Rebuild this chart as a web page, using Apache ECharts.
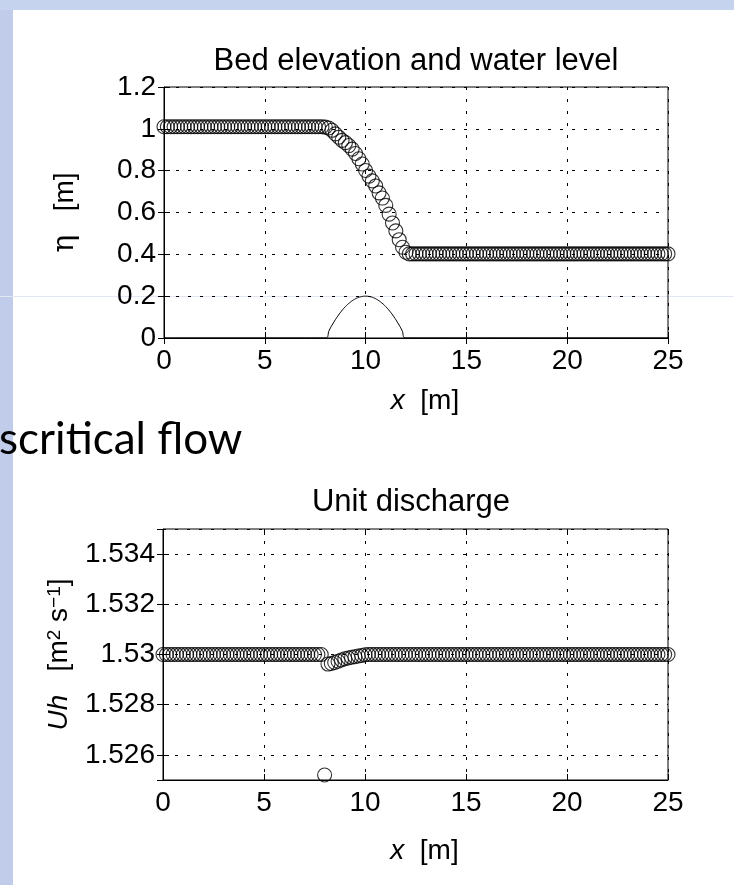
<!DOCTYPE html>
<html><head><meta charset="utf-8">
<script src="https://cdn.jsdelivr.net/npm/echarts@6/dist/echarts.min.js"></script>
<style>html,body{margin:0;padding:0;background:#fff}#c{width:734px;height:885px}</style>
</head><body><div id="c"></div>
<script>
// ---- data ----
const xNodes = [
0,0.167,0.333,0.5,0.667,0.833,
1,1.167,1.333,1.5,1.667,1.833,
2,2.167,2.333,2.5,2.667,2.833,
3,3.167,3.333,3.5,3.667,3.833,
4,4.167,4.333,4.5,4.667,4.833,
5,5.167,5.333,5.5,5.667,5.833,
6,6.167,6.333,6.5,6.667,6.833,
7,7.167,7.333,7.5,7.667,7.833,
8,8.167,8.333,8.5,8.667,8.833,
9,9.167,9.333,9.5,9.667,9.833,
10,10.167,10.333,10.5,10.667,10.833,
11,11.167,11.333,11.5,11.667,11.833,
12,12.167,12.333,12.5,12.667,12.833,
13,13.167,13.333,13.5,13.667,13.833,
14,14.167,14.333,14.5,14.667,14.833,
15,15.167,15.333,15.5,15.667,15.833,
16,16.167,16.333,16.5,16.667,16.833,
17,17.167,17.333,17.5,17.667,17.833,
18,18.167,18.333,18.5,18.667,18.833,
19,19.167,19.333,19.5,19.667,19.833,
20,20.167,20.333,20.5,20.667,20.833,
21,21.167,21.333,21.5,21.667,21.833,
22,22.167,22.333,22.5,22.667,22.833,
23,23.167,23.333,23.5,23.667,23.833,
24,24.167,24.333,24.5,24.667,24.833,
25];
const etaValues = [
1.01,1.01,1.01,1.01,1.01,1.01,
1.01,1.01,1.01,1.01,1.01,1.01,
1.01,1.01,1.01,1.01,1.01,1.01,
1.01,1.01,1.01,1.01,1.01,1.01,
1.01,1.01,1.01,1.01,1.01,1.01,
1.01,1.01,1.01,1.01,1.01,1.01,
1.01,1.01,1.01,1.01,1.01,1.01,
1.01,1.01,1.01,1.01,1.01,1.01,
1.008,1.004,0.993,0.976,0.96,0.945,
0.934,0.92,0.903,0.882,0.857,0.832,
0.801,0.774,0.751,0.727,0.694,0.669,
0.634,0.592,0.55,0.512,0.47,0.434,
0.41,0.402,0.402,0.402,0.402,0.402,
0.402,0.402,0.402,0.402,0.402,0.402,
0.402,0.402,0.402,0.402,0.402,0.402,
0.402,0.402,0.402,0.402,0.402,0.402,
0.402,0.402,0.402,0.402,0.402,0.402,
0.402,0.402,0.402,0.402,0.402,0.402,
0.402,0.402,0.402,0.402,0.402,0.402,
0.402,0.402,0.402,0.402,0.402,0.402,
0.402,0.402,0.402,0.402,0.402,0.402,
0.402,0.402,0.402,0.402,0.402,0.402,
0.402,0.402,0.402,0.402,0.402,0.402,
0.402,0.402,0.402,0.402,0.402,0.402,
0.402,0.402,0.402,0.402,0.402,0.402,
0.402];
const bedX = [0,8,8.2,8.4,8.6,8.8,9,9.2,9.4,9.6,9.8,10,10.2,10.4,10.6,10.8,11,11.2,11.4,11.6,11.8,12,25];
const bedZ = [0,0,0.038,0.072,0.102,0.128,0.15,0.168,0.182,0.192,0.198,0.2,0.198,0.192,0.182,0.168,0.15,0.128,0.102,0.072,0.038,0,0];
const uhValues = [
1.53,1.53,1.53,1.53,1.53,1.53,
1.53,1.53,1.53,1.53,1.53,1.53,
1.53,1.53,1.53,1.53,1.53,1.53,
1.53,1.53,1.53,1.53,1.53,1.53,
1.53,1.53,1.53,1.53,1.53,1.53,
1.53,1.53,1.53,1.53,1.53,1.53,
1.53,1.53,1.53,1.53,1.53,1.53,
1.53,1.53,1.53,1.53,1.53,1.53,
1.5252,1.52962,1.52964,1.52968,1.52973,1.52978,
1.52983,1.52986,1.52989,1.52991,1.52994,1.52996,
1.52999,1.53,1.53,1.53,1.53,1.53,
1.53,1.53,1.53,1.53,1.53,1.53,
1.53,1.53,1.53,1.53,1.53,1.53,
1.53,1.53,1.53,1.53,1.53,1.53,
1.53,1.53,1.53,1.53,1.53,1.53,
1.53,1.53,1.53,1.53,1.53,1.53,
1.53,1.53,1.53,1.53,1.53,1.53,
1.53,1.53,1.53,1.53,1.53,1.53,
1.53,1.53,1.53,1.53,1.53,1.53,
1.53,1.53,1.53,1.53,1.53,1.53,
1.53,1.53,1.53,1.53,1.53,1.53,
1.53,1.53,1.53,1.53,1.53,1.53,
1.53,1.53,1.53,1.53,1.53,1.53,
1.53,1.53,1.53,1.53,1.53,1.53,
1.53,1.53,1.53,1.53,1.53,1.53,
1.53];
const xTickLabels = ['0','5','10','15','20','25'];
const etaTickLabels = ['0','0.2','0.4','0.6','0.8','1','1.2'];
const uhTickValues = [1.526,1.528,1.530,1.532,1.534];
const uhTickLabels = ['1.526','1.528','1.53','1.532','1.534'];
const title1 = 'Bed elevation and water level';
const title2 = 'Unit discharge';
const slideText = 'scritical flow';

// ---- chart ----
const FONT = '"Liberation Sans", Arial, Helvetica, sans-serif';
const TICK_FS = 28;
const chart = echarts.init(document.getElementById('c'), null, {renderer: 'canvas'});

const grid = [
  {left: 164, top: 87, width: 504, height: 251, show: true, borderColor: '#000', borderWidth: 1, backgroundColor: 'transparent'},
  {left: 163, top: 529, width: 505, height: 251, show: true, borderColor: '#000', borderWidth: 1, backgroundColor: 'transparent'}
];
const dotted = {color: '#000', width: 1, type: [3, 9]};
const tickStyle = {show: true, inside: true, length: 6, lineStyle: {color: '#000', width: 1}};
function xMain(gi, gap) {
  return {
    gridIndex: gi, type: 'value', min: 0, max: 25, interval: 5, position: 'bottom',
    axisLine: {show: true, lineStyle: {color: '#000', width: 1}},
    axisTick: tickStyle,
    axisLabel: {color: '#000', fontFamily: FONT, fontSize: TICK_FS, margin: 9,
      formatter: v => xTickLabels[Math.round(v / 5)] || ''},
    splitLine: {show: true, lineStyle: dotted},
    name: '{i|x}  [m]', nameLocation: 'middle', nameGap: gap,
    nameTextStyle: {color: '#000', fontFamily: FONT, fontSize: 28, padding: [0, 0, 0, 18],
      rich: {i: {fontStyle: 'italic', fontFamily: FONT, fontSize: 28, color: '#000'}}}
  };
}
function xTop(gi) {
  return {gridIndex: gi, type: 'value', min: 0, max: 25, interval: 5, position: 'top',
    axisLine: {show: false}, axisTick: tickStyle, axisLabel: {show: false}, splitLine: {show: false}};
}
const xAxis = [xMain(0, 49), xTop(0), xMain(1, 57), xTop(1)];

const yAxis = [
  {gridIndex: 0, type: 'value', min: 0, max: 1.2, interval: 0.2, position: 'left',
    axisLine: {show: true, lineStyle: {color: '#000', width: 1}},
    axisTick: tickStyle,
    axisLabel: {color: '#000', fontFamily: FONT, fontSize: TICK_FS, margin: 8,
      formatter: v => etaTickLabels[Math.round(v / 0.2)] || ''},
    splitLine: {show: true, lineStyle: dotted},
    name: '{g|η}   [m]', nameLocation: 'middle', nameGap: 84, nameRotate: 90,
    nameTextStyle: {color: '#000', fontFamily: FONT, fontSize: 28, rich: {g: {fontFamily: '"DejaVu Serif", serif', fontSize: 30, color: '#000'}}}
  },
  {gridIndex: 0, type: 'value', min: 0, max: 1.2, interval: 0.2, position: 'right',
    axisLine: {show: false}, axisTick: tickStyle, axisLabel: {show: false}, splitLine: {show: false}},
  {gridIndex: 1, type: 'value', min: 1.525, max: 1.535, splitNumber: 5, position: 'left',
    axisLine: {show: true, lineStyle: {color: '#000', width: 1}},
    axisTick: tickStyle,
    axisLabel: {color: '#000', fontFamily: FONT, fontSize: TICK_FS, margin: 8, showMinLabel: false, showMaxLabel: false,
      formatter: v => {
        for (let k = 0; k < uhTickValues.length; k++) if (Math.abs(uhTickValues[k] - v) < 1e-7) return uhTickLabels[k];
        return '';
      }},
    splitLine: {show: true, lineStyle: dotted},
    name: '{i|Uh}   [m{s|2} s{s|−1}]', nameLocation: 'middle', nameGap: 90, nameRotate: 90,
    nameTextStyle: {color: '#000', fontFamily: FONT, fontSize: 28,
      rich: {
        i: {fontStyle: 'italic', fontFamily: FONT, fontSize: 28, color: '#000'},
        s: {fontFamily: FONT, fontSize: 19, color: '#000', verticalAlign: 'top'}
      }}
  },
  {gridIndex: 1, type: 'value', min: 1.525, max: 1.535, splitNumber: 5, position: 'right',
    axisLine: {show: false}, axisTick: tickStyle, axisLabel: {show: false}, splitLine: {show: false}}
];

const circleStyle = {color: 'rgba(0,0,0,0)', borderColor: '#000', borderWidth: 1.1};
const series = [
  {type: 'scatter', xAxisIndex: 0, yAxisIndex: 0, symbol: 'circle', symbolSize: 14, clip: false,
    itemStyle: circleStyle, data: xNodes.map((x, i) => [x, etaValues[i]]), z: 3},
  {type: 'line', xAxisIndex: 0, yAxisIndex: 0, showSymbol: false, smooth: true, clip: true,
    lineStyle: {color: '#000', width: 1}, data: bedX.map((x, i) => [x, bedZ[i]]), z: 2},
  {type: 'scatter', xAxisIndex: 2, yAxisIndex: 2, symbol: 'circle', symbolSize: 14, clip: false,
    itemStyle: circleStyle, data: xNodes.map((x, i) => [x, uhValues[i]]), z: 3}
];

const graphic = [
  {type: 'rect', z: -10, silent: true, shape: {x: 0, y: 0, width: 13, height: 885}, style: {fill: '#c0cce9'}},
  {type: 'rect', z: -10, silent: true, shape: {x: 0, y: 0, width: 734, height: 10}, style: {fill: '#c6d3ee'}},
  {type: 'line', z: -9, silent: true, shape: {x1: 0, y1: 296.5, x2: 734, y2: 296.5}, style: {stroke: '#e2e7f4', lineWidth: 1}},
  {type: 'text', x: 416, y: 61, silent: true,
    style: {text: title1, fill: '#000', font: '31px ' + FONT, align: 'center', verticalAlign: 'middle', textAlign: 'center', textVerticalAlign: 'middle'}},
  {type: 'text', x: 411, y: 502, silent: true,
    style: {text: title2, fill: '#000', font: '31px ' + FONT, align: 'center', verticalAlign: 'middle', textAlign: 'center', textVerticalAlign: 'middle'}},
  {type: 'text', x: -1, y: 440, silent: true,
    style: {text: slideText, fill: '#000', font: '44px Lato, "Open Sans", sans-serif', align: 'left', verticalAlign: 'middle', textAlign: 'left', textVerticalAlign: 'middle'}}
];

chart.setOption({
  backgroundColor: '#ffffff',
  animation: false,
  grid: grid,
  xAxis: xAxis,
  yAxis: yAxis,
  series: series,
  graphic: graphic
});
</script>
</body></html>
